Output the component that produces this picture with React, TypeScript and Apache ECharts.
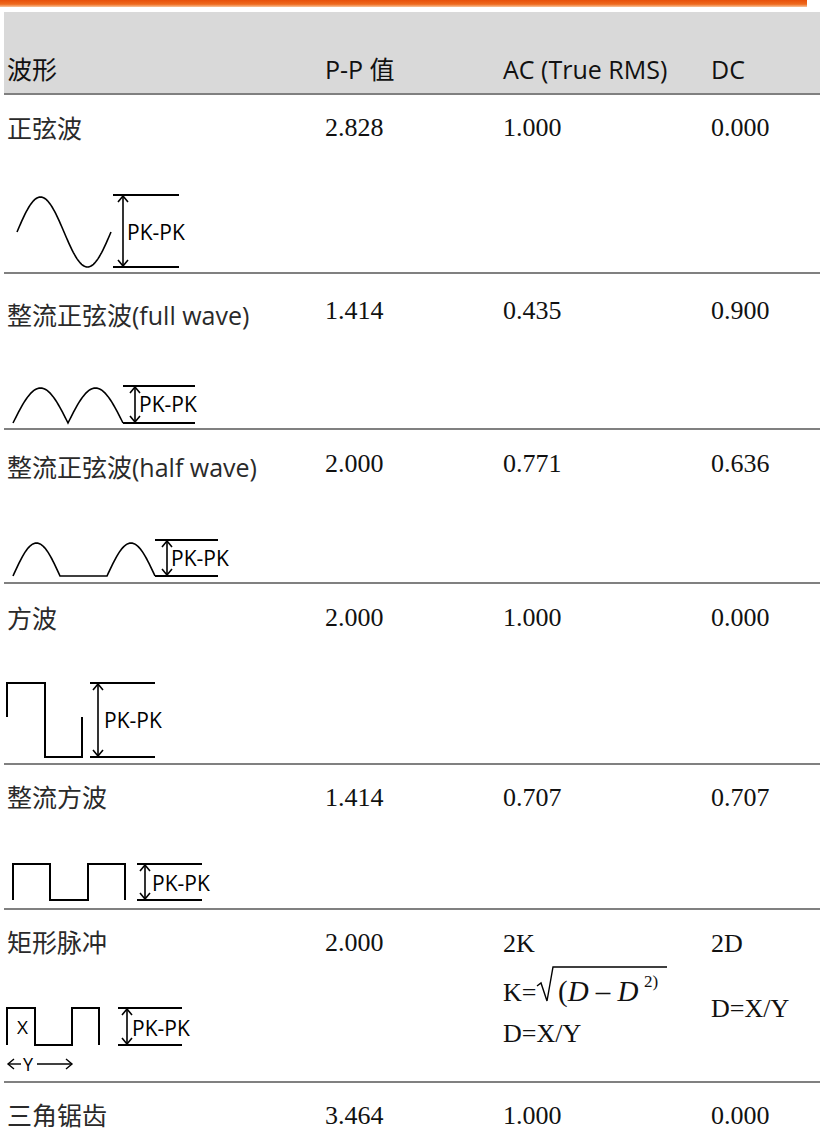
import React, { useEffect, useRef } from 'react';
import * as echarts from 'echarts';

// ---- table content ----
const headers = ['波形', 'P-P 值', 'AC (True RMS)', 'DC'];
const waveNames = [
  '正弦波',
  '整流正弦波(full wave)',
  '整流正弦波(half wave)',
  '方波',
  '整流方波',
  '矩形脉冲',
  '三角锯齿',
];
const ppValues = ['2.828', '1.414', '2.000', '2.000', '1.414', '2.000', '3.464'];
const acValues = ['1.000', '0.435', '0.771', '1.000', '0.707', '2K', '1.000'];
const dcValues = ['0.000', '0.900', '0.636', '0.000', '0.707', '2D', '0.000'];
const pkLabel = 'PK-PK';

// ---- layout ----
const W = 820;
const H = 1131;
const colX = [7, 325, 503, 711];
const headerY = 69;
const labelY = [128, 315, 467, 618, 797, 942, 1115];
const valueY = [127, 310, 463, 617, 797, 942, 1115];
const sepY = [273, 429, 583, 764, 909, 1082];

const SANS = "'Open Sans', 'Noto Sans CJK SC', sans-serif";
const SERIF = "'Liberation Serif', 'Times New Roman', serif";

function line(x1: number, y1: number, x2: number, y2: number, w = 2, color = '#000') {
  return { type: 'line', shape: { x1, y1, x2, y2 }, style: { stroke: color, lineWidth: w } };
}
function poly(points: number[][], w = 2) {
  return { type: 'polyline', shape: { points }, style: { stroke: '#000', lineWidth: w, fill: null, lineJoin: 'miter' } };
}
function txt(text: string, x: number, y: number, size: number, family: string, fill = '#111', extra: any = {}) {
  return {
    type: 'text',
    style: { text, x, y, fontSize: size, fontFamily: family, fill, align: 'left', verticalAlign: 'middle', ...extra },
  };
}
function pk(ax: number, yTop: number, yBot: number, x1: number, x2: number, lx: number, ly: number) {
  return [
    line(x1, yTop, x2, yTop),
    line(x1, yBot, x2, yBot),
    line(ax, yTop + 1, ax, yBot - 1, 1.6),
    poly([[ax - 5, yTop + 7], [ax, yTop + 1], [ax + 5, yTop + 7]], 1.6),
    poly([[ax - 5, yBot - 7], [ax, yBot - 1], [ax + 5, yBot - 7]], 1.6),
    txt(pkLabel, lx, ly, 21, SANS, '#000'),
  ];
}

function sinePoints(x0: number, x1: number, mid: number, amp: number) {
  const pts: number[][] = [];
  const n = 80;
  for (let i = 0; i <= n; i++) {
    const t = i / n;
    pts.push([x0 + (x1 - x0) * t, mid - amp * Math.sin(2 * Math.PI * t)]);
  }
  return pts;
}
function archPoints(x0: number, x1: number, base: number, amp: number) {
  const pts: number[][] = [];
  const n = 40;
  for (let i = 0; i <= n; i++) {
    const t = i / n;
    pts.push([x0 + (x1 - x0) * t, base - amp * Math.sin(Math.PI * t)]);
  }
  return pts;
}

function buildGraphics() {
  const g: any[] = [];
  // top orange bar
  g.push({
    type: 'rect',
    shape: { x: 0, y: 0, width: 807, height: 7 },
    style: {
      fill: new echarts.graphic.LinearGradient(0, 0, 0, 1, [
        { offset: 0, color: '#E8500A' },
        { offset: 0.6, color: '#EE6A1E' },
        { offset: 1, color: '#F9C49A' },
      ]),
    },
  });
  // header band
  g.push({ type: 'rect', shape: { x: 4, y: 12, width: 816, height: 81 }, style: { fill: '#D9D9D9' } });
  g.push({ type: 'rect', shape: { x: 4, y: 93, width: 816, height: 2 }, style: { fill: '#808080' } });
  headers.forEach((h, i) => g.push(txt(h, colX[i], headerY, 25, SANS, '#111')));

  // separators
  sepY.forEach((y) => g.push({ type: 'rect', shape: { x: 4, y: y - 1, width: 816, height: 2 }, style: { fill: '#808080' } }));

  // rows text
  waveNames.forEach((n, i) => g.push(txt(n, colX[0], labelY[i], 25, SANS, '#2a2a2a')));
  ppValues.forEach((v, i) => g.push(txt(v, colX[1], valueY[i], 26, SERIF, '#111')));
  acValues.forEach((v, i) => {
    if (i === 5) return;
    g.push(txt(v, colX[2], valueY[i], 26, SERIF, '#111'));
  });
  dcValues.forEach((v, i) => {
    if (i === 5) return;
    g.push(txt(v, colX[3], valueY[i], 26, SERIF, '#111'));
  });
  // rectangular pulse formulas
  g.push(txt(acValues[5], colX[2], 943, 26, SERIF, '#111'));
  g.push(txt(dcValues[5], colX[3], 943, 26, SERIF, '#111'));
  g.push(txt('K=', colX[2], 992, 26, SERIF, '#111'));
  g.push(poly([[537, 986], [541, 983], [547, 1001], [553, 967], [667, 967]], 1.4));
  g.push({
    type: 'text',
    style: {
      text: '{n|(}{i|D – D}',
      x: 558,
      y: 991,
      verticalAlign: 'middle',
      rich: {
        n: { fontSize: 29, fontFamily: SERIF, fill: '#111' },
        i: { fontSize: 29, fontFamily: SERIF, fontStyle: 'italic', fill: '#111' },
      },
    },
  });
  g.push(txt('2)', 644, 981, 17, SERIF, '#111'));
  g.push(txt('D=X/Y', colX[2], 1033, 26, SERIF, '#111'));
  g.push(txt('D=X/Y', colX[3], 1008, 26, SERIF, '#111'));

  // row 1: sine
  g.push(poly(sinePoints(17, 111, 232, 35), 1.6));
  g.push(...pk(123, 195, 267, 113, 179, 127, 232));

  // row 2: full-wave rectified
  g.push(poly([...archPoints(13, 68, 423, 35), ...archPoints(68, 123, 423, 35).slice(1)], 1.6));
  g.push(...pk(135, 386, 423, 123, 195, 139, 404));

  // row 3: half-wave rectified
  g.push(poly([...archPoints(13, 60, 576, 33), [107, 576], ...archPoints(107, 155, 576, 33)], 1.6));
  g.push(...pk(167, 540, 576, 155, 218, 171, 558));

  // row 4: square
  g.push(poly([[7, 717], [7, 683], [45, 683], [45, 757], [82, 757], [82, 717]], 2));
  g.push(...pk(98, 683, 757, 90, 155, 104, 720));

  // row 5: rectified square
  g.push(poly([[13, 900], [13, 864], [50, 864], [50, 900], [88, 900], [88, 864], [125, 864], [125, 900]], 2));
  g.push(...pk(145, 864, 900, 137, 202, 152, 883));

  // row 6: rectangular pulse
  g.push(poly([[7, 1045], [7, 1008], [35, 1008], [35, 1045], [72, 1045], [72, 1008], [99, 1008], [99, 1045]], 2));
  g.push(txt('X', 17, 1027, 19, SANS, '#000'));
  g.push(...pk(127, 1008, 1045, 118, 182, 132, 1028));
  // ←Y→
  g.push(line(8, 1064, 21, 1064, 1.4));
  g.push(poly([[14, 1059], [8, 1064], [14, 1069]], 1.4));
  g.push(txt('Y', 23, 1064, 18, SANS, '#000'));
  g.push(line(37, 1064, 72, 1064, 1.4));
  g.push(poly([[66, 1059], [72, 1064], [66, 1069]], 1.4));

  return g;
}

export default function App() {
  const ref = useRef<HTMLDivElement>(null);
  useEffect(() => {
    if (!ref.current) return;
    const chart = echarts.init(ref.current, null, { renderer: 'svg' });
    chart.setOption({
      animation: false,
      backgroundColor: '#ffffff',
      graphic: { elements: buildGraphics() },
    });
    return () => chart.dispose();
  }, []);
  return (
    <div
      ref={ref}
      style={{ position: 'absolute', left: 0, top: 0, width: W, height: H, background: '#fff' }}
    />
  );
}
